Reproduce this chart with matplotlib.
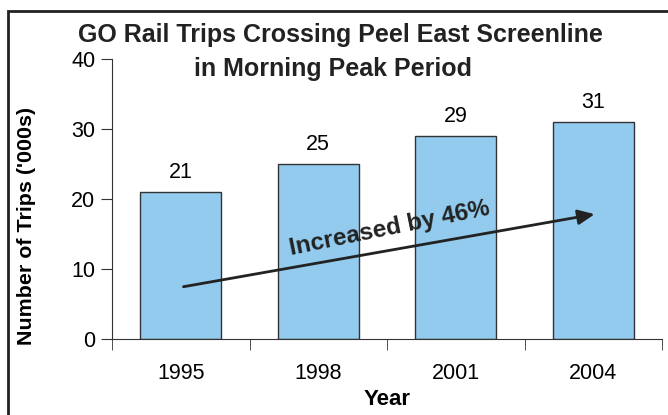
import matplotlib.pyplot as plt
from matplotlib.patches import Rectangle

years = ["1995", "1998", "2001", "2004"]
trips = [21, 25, 29, 31]

plt.rcParams['font.family'] = ['Liberation Sans', 'DejaVu Sans']

fig = plt.figure(figsize=(6.68, 4.15), dpi=100)
ax = fig.add_axes([112 / 668, 1 - 339 / 415, 550 / 668, 280 / 415])

x = range(len(years))
bars = ax.bar(x, trips, width=0.59, color='#93CBEE', edgecolor='#333333', linewidth=1)
for b, v in zip(bars, trips):
    ax.text(b.get_x() + b.get_width() / 2, v + 1.3, str(v), ha='center', va='bottom', fontsize=15.5)

ax.set_xlim(-0.5, 3.5)
ax.set_ylim(0, 40)
ax.set_yticks([0, 10, 20, 30, 40])
ax.set_xticks(list(x))
ax.set_xticklabels(years)
ax.set_xticks([-0.5, 0.5, 1.5, 2.5, 3.5], minor=True)
ax.tick_params(axis='x', which='major', length=0, labelsize=15.5, pad=17)
ax.tick_params(axis='x', which='minor', length=8, direction='out', color='#333333')
ax.tick_params(axis='y', length=8, labelsize=15.5, pad=4, color='#333333')
for s in ['top', 'right']:
    ax.spines[s].set_visible(False)
ax.spines['left'].set_color('#333333')
ax.spines['bottom'].set_color('#333333')

ax.set_xlabel("Year", fontsize=16, fontweight='bold', labelpad=4)
ax.set_ylabel("Number of Trips ('000s)", fontsize=15.4, fontweight='bold')
ax.yaxis.set_label_coords(-76 / 550, (339 - 226) / 280)

fig.text(340 / 668, 1 - 35 / 415, "GO Rail Trips Crossing Peel East Screenline",
         ha='center', va='center', fontsize=18, fontweight='bold', color='#222222')
fig.text(333 / 668, 1 - 69 / 415, "in Morning Peak Period",
         ha='center', va='center', fontsize=18, fontweight='bold', color='#222222')

ax.annotate("", xy=(3.03, 17.9), xytext=(0.0, 7.4),
            arrowprops=dict(arrowstyle='-|>,head_length=1.0,head_width=0.45', color='#222222', lw=2))
ax.text(1.52, 15.8, "Increased by 46%", rotation=11.5, ha='center', va='center',
        fontsize=17.5, fontweight='bold', color='#222222', rotation_mode='anchor')

fig.patches.append(Rectangle((8 / 668, -0.1), 1.2, 1 - 11 / 415 + 0.1, transform=fig.transFigure,
                             fill=False, edgecolor='#222222', linewidth=2))

fig.savefig("out.png", dpi=100)
